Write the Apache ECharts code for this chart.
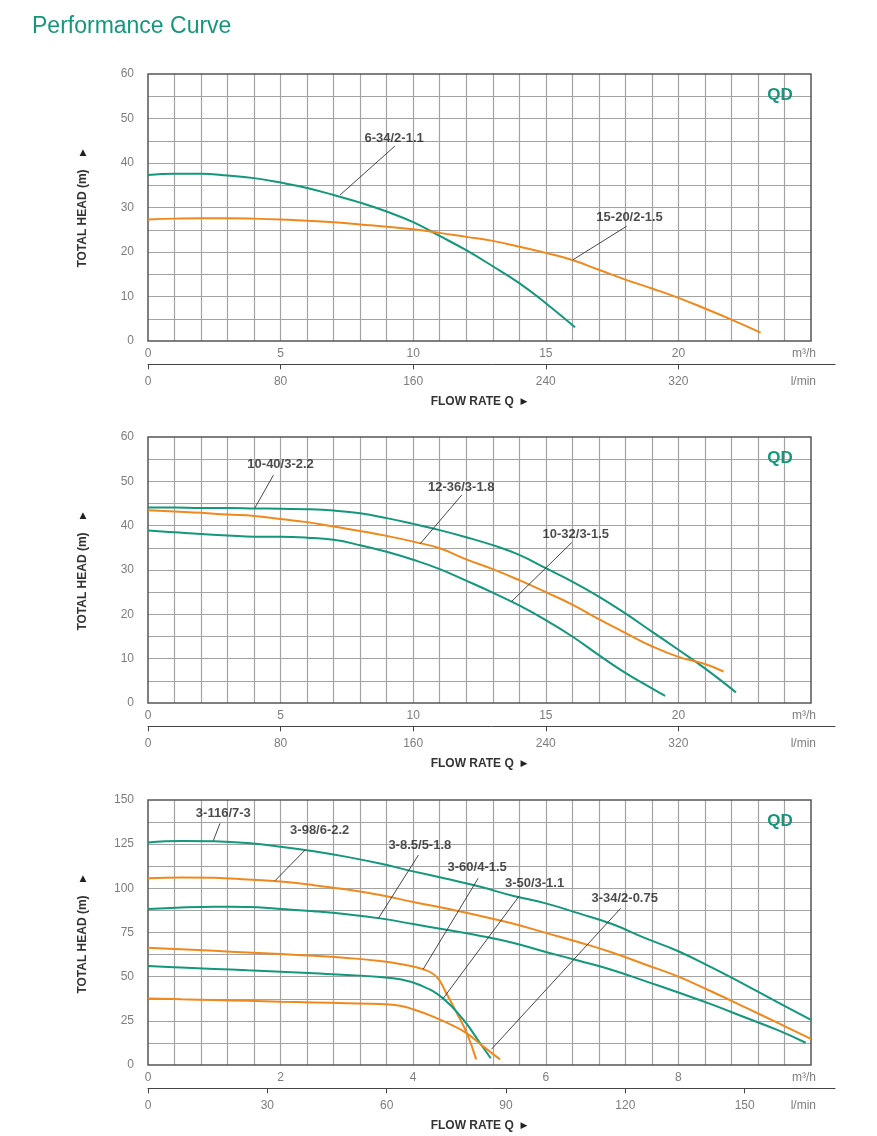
<!DOCTYPE html>
<html>
<head>
<meta charset="utf-8">
<script src="https://cdn.jsdelivr.net/npm/echarts@6/dist/echarts.min.js"></script>
<style>
html,body{margin:0;padding:0;background:#fff;}
#chart{width:877px;height:1136px;}
</style>
</head>
<body>
<div id="chart"></div>
<script>
// ---------- DATA ----------
// Panel 1 (m3/h vs m)
const p1QTicks = [0, 5, 10, 15, 20];
const p1LminTicks = [0, 80, 160, 240, 320];
const p1HTicks = [0, 10, 20, 30, 40, 50, 60];
const curve_6_34_2_11 = [[0,37.3],[1,37.6],[2,37.6],[3,37.2],[4,36.6],[5,35.6],[6,34.4],[7,32.8],[8,31.1],[9,29.1],[10,26.7],[11,23.6],[12,20.4],[13,16.8],[14,13.0],[15,8.5],[16.1,3.1]];
const curve_15_20_2_15 = [[0,27.3],[1,27.5],[2,27.6],[3,27.6],[4,27.5],[5,27.3],[6,27.0],[7,26.7],[8,26.2],[9,25.7],[10,25.1],[11,24.3],[12,23.4],[13,22.5],[14,21.2],[15,19.8],[16,18.2],[17,16.0],[18,13.8],[19,11.8],[20,9.7],[21,7.3],[22,4.8],[23.1,1.9]];
const p1Labels = ['6-34/2-1.1', '15-20/2-1.5'];
const p1LabelPos = [[9.28,45.6],[18.16,27.7]];
const p1Leaders = [[[7.24,32.8],[9.31,43.8]],[[16.01,18.2],[18.05,25.8]]];

// Panel 2
const p2QTicks = [0, 5, 10, 15, 20];
const p2LminTicks = [0, 80, 160, 240, 320];
const p2HTicks = [0, 10, 20, 30, 40, 50, 60];
const curve_10_40_3_22 = [[0,44.1],[1,44.1],[2,44.0],[3,44.0],[4,43.9],[5,43.8],[6,43.7],[7,43.4],[8,42.8],[9,41.7],[10,40.4],[11,39.0],[12,37.4],[13,35.6],[14,33.4],[15,30.4],[16,27.4],[17,24.0],[18,20.2],[19,16.1],[20,12.0],[21,7.8],[22.17,2.4]];
const curve_12_36_3_18 = [[0,43.5],[1,43.2],[2,42.9],[3,42.5],[4,42.2],[5,41.5],[6,40.8],[7,39.8],[8,38.8],[9,37.7],[10,36.4],[11,34.9],[12,32.4],[13,30.2],[14,27.7],[15,25.0],[16,22.2],[17,18.9],[18,15.8],[19,12.8],[20,10.4],[21,8.8],[21.7,7.1]];
const curve_10_32_3_15 = [[0,38.9],[1,38.5],[2,38.1],[3,37.8],[4,37.5],[5,37.5],[6,37.3],[7,36.8],[8,35.6],[9,34.1],[10,32.3],[11,30.2],[12,27.6],[13,24.9],[14,22.0],[15,18.7],[16,15.0],[17,10.8],[18,6.8],[19,3.3],[19.5,1.6]];
const p2Labels = ['10-40/3-2.2', '12-36/3-1.8', '10-32/3-1.5'];
const p2LabelPos = [[5.0,53.8],[11.81,48.7],[16.13,38.0]];
const p2Leaders = [[[4.03,44.0],[4.73,51.4]],[[10.26,35.9],[11.83,46.9]],[[13.71,22.9],[15.98,36.2]]];

// Panel 3
const p3QTicks = [0, 2, 4, 6, 8];
const p3LminTicks = [0, 30, 60, 90, 120, 150];
const p3HTicks = [0, 25, 50, 75, 100, 125, 150];
const curve_3_116_7_3 = [[0,126],[0.5,126.8],[1,126.6],[1.5,125.6],[2,123.6],[2.5,121],[3,117.8],[3.5,114],[4,109.6],[4.5,105.4],[5,101],[5.5,95.8],[6,91.5],[6.5,85.8],[7,79.8],[7.5,71.8],[8,64.4],[8.5,55.2],[9,45.5],[9.5,35.4],[10,25.5]];
const curve_3_98_6_22 = [[0,105.7],[0.5,106.2],[1,106],[1.5,105],[2,103.8],[2.5,101.8],[3,99.3],[3.5,96.2],[4,92.3],[4.5,88.6],[5,84.5],[5.5,80.1],[6,74.8],[6.5,69.5],[7,63.7],[7.5,56.9],[8,50],[8.5,41.6],[9,32.8],[9.5,23.8],[10,14.8]];
const curve_3_85_5_18 = [[0,88.3],[0.5,89.2],[1,89.6],[1.5,89.5],[2,88.3],[2.5,87],[3,85.3],[3.5,83],[4,79.8],[4.5,76.5],[5,73.2],[5.5,69.2],[6,64],[6.5,59],[7,53.8],[7.5,47.5],[8,41],[8.5,34.3],[9,27],[9.5,19.7],[9.92,12.6]];
const curve_3_60_4_15 = [[0,66.4],[0.5,65.5],[1,64.6],[1.5,63.7],[2,62.8],[2.5,61.8],[3,60.6],[3.5,58.9],[3.8,57.2],[4.15,54.2],[4.35,50],[4.5,40.6],[4.66,29.3],[4.81,17.9],[4.95,3.2]];
const curve_3_50_3_11 = [[0,56],[0.5,55.2],[1,54.4],[1.5,53.6],[2,52.8],[2.5,51.9],[3,51],[3.5,49.8],[3.8,48.5],[4.1,45.3],[4.45,37.7],[4.76,25.5],[5.01,12.3],[5.17,3.8]];
const curve_3_34_2_075 = [[0,37.7],[0.5,37.2],[1,36.8],[1.5,36.3],[2,35.8],[2.5,35.4],[3,35],[3.5,34.5],[3.8,33.6],[4,31.5],[4.3,27.4],[4.6,22.3],[4.81,17.9],[5.06,10.4],[5.31,3.2]];
const p3Labels = ['3-116/7-3', '3-98/6-2.2', '3-8.5/5-1.8', '3-60/4-1.5', '3-50/3-1.1', '3-34/2-0.75'];
const p3LabelPos = [[1.136,142.5],[2.59,132.6],[4.10,124.5],[4.965,111.9],[5.83,102.5],[7.19,94.3]];
const p3Leaders = [[[0.985,127],[1.086,136.8]],[[1.915,104.3],[2.37,121.7]],[[3.475,83],[4.08,118.9]],[[4.15,54.2],[4.98,105.7]],[[4.45,37.6],[5.6,95.7]],[[5.18,8.9],[7.13,88.7]]];

// ---------- STYLE / LAYOUT ----------
const GREEN = '#14977b', ORANGE = '#f0891d';
const FONT = "'Liberation Sans', Arial, Helvetica, sans-serif";
const PLOT_LEFT = 148, PLOT_W = 663, LMIN_W = 687;

const panels = [
  {top:74, height:267, xMax:25, xStep:1, yMax:60, yStep:5, lMax:414.5,
   qTicks:p1QTicks, lTicks:p1LminTicks, hTicks:p1HTicks,
   curves:[[curve_6_34_2_11,GREEN],[curve_15_20_2_15,ORANGE]],
   labels:p1Labels, labelPos:p1LabelPos, leaders:p1Leaders},
  {top:437, height:266, xMax:25, xStep:1, yMax:60, yStep:5, lMax:414.5,
   qTicks:p2QTicks, lTicks:p2LminTicks, hTicks:p2HTicks,
   curves:[[curve_10_40_3_22,GREEN],[curve_12_36_3_18,ORANGE],[curve_10_32_3_15,GREEN]],
   labels:p2Labels, labelPos:p2LabelPos, leaders:p2Leaders},
  {top:800, height:265, xMax:10, xStep:0.4, yMax:150, yStep:12.5, lMax:172.7,
   qTicks:p3QTicks, lTicks:p3LminTicks, hTicks:p3HTicks,
   curves:[[curve_3_116_7_3,GREEN],[curve_3_98_6_22,ORANGE],[curve_3_85_5_18,GREEN],[curve_3_60_4_15,ORANGE],[curve_3_50_3_11,GREEN],[curve_3_34_2_075,ORANGE]],
   labels:p3Labels, labelPos:p3LabelPos, leaders:p3Leaders}
];

const grid = [], xAxis = [], yAxis = [], series = [], graphic = [];
const gridLine = {show:true, showMinLine:false, showMaxLine:false, lineStyle:{color:'#a3a3a3', width:1.2}};
const tickLabel = {color:'#7d7d7d', fontSize:12, fontFamily:FONT};

graphic.push({type:'text', left:32, top:15, style:{text:'Performance Curve', fill:GREEN, font:'23px ' + FONT}});

panels.forEach((p, i) => {
  const bottom = p.top + p.height;
  const gi = i * 2;      // main grid
  const li = i * 2 + 1;  // l/min grid
  grid.push({left:PLOT_LEFT, top:p.top, width:PLOT_W, height:p.height, show:true, borderColor:'#555', borderWidth:1.5, backgroundColor:'rgba(0,0,0,0)', z:2});
  grid.push({left:PLOT_LEFT, top:bottom + 22.3, width:LMIN_W, height:1, show:false});

  xAxis.push({gridIndex:gi, type:'value', min:0, max:p.xMax, interval:p.xStep,
    axisLine:{show:false}, axisTick:{show:false},
    axisLabel:Object.assign({customValues:p.qTicks, margin:7}, tickLabel),
    splitLine:gridLine});
  yAxis.push({gridIndex:gi, type:'value', min:0, max:p.yMax, interval:p.yStep,
    axisLine:{show:false}, axisTick:{show:false},
    axisLabel:Object.assign({customValues:p.hTicks, margin:14}, tickLabel),
    splitLine:gridLine});

  xAxis.push({gridIndex:li, type:'value', min:0, max:p.lMax, position:'bottom',
    axisLine:{show:true, onZero:false, lineStyle:{color:'#444', width:1}},
    axisTick:{show:true, customValues:p.lTicks, length:5, lineStyle:{color:'#444', width:1}},
    axisLabel:Object.assign({customValues:p.lTicks, margin:11}, tickLabel),
    splitLine:{show:false}});
  yAxis.push({gridIndex:li, type:'value', show:false});

  p.curves.forEach(([data, color]) => {
    series.push({type:'line', xAxisIndex:gi, yAxisIndex:gi, data:data, showSymbol:false,
      smooth:0.45, silent:true, z:3,
      lineStyle:{color:color, width:2}});
  });
  series.push({type:'lines', coordinateSystem:'cartesian2d', xAxisIndex:gi, yAxisIndex:gi, silent:true, z:4,
    lineStyle:{color:'#333', width:0.9, opacity:1},
    data:p.leaders.map(c => ({coords:c}))});
  series.push({type:'scatter', xAxisIndex:gi, yAxisIndex:gi, silent:true, z:5, symbolSize:1,
    itemStyle:{color:'rgba(0,0,0,0)'},
    label:{show:true, position:'inside', formatter:'{b}', color:'#1e1e1e', fontSize:13, fontWeight:'bold', fontFamily:FONT},
    data:p.labels.map((t, k) => ({name:t, value:p.labelPos[k]}))});

  // decorative texts
  graphic.push({type:'text', x:780, y:p.top + 21.5, z:10, style:{text:'QD', fill:GREEN, font:'bold 17px ' + FONT, align:'center', verticalAlign:'middle'}});
  graphic.push({type:'text', x:83, y:p.top + 144.5, rotation:Math.PI/2, z:10, style:{text:'TOTAL HEAD (m)', fill:'#333', font:'bold 12px ' + FONT, align:'center', verticalAlign:'middle'}});
  graphic.push({type:'text', x:83, y:p.top + 78.7, z:10, style:{text:'▲', fill:'#222', font:'9px DejaVu Sans', align:'center', verticalAlign:'middle'}});
  graphic.push({type:'text', x:479, y:bottom + 60.5, z:10, style:{text:'{a|FLOW RATE Q}  {b|▶}', align:'center', verticalAlign:'middle',
    rich:{a:{fill:'#333', font:'bold 12px ' + FONT}, b:{fill:'#222', font:'9px DejaVu Sans'}}}});
  graphic.push({type:'text', x:816, y:bottom + 12.5, z:10, style:{text:'m³/h', fill:'#7d7d7d', font:'12px ' + FONT, align:'right', verticalAlign:'middle'}});
  graphic.push({type:'text', x:816, y:bottom + 40.5, z:10, style:{text:'l/min', fill:'#7d7d7d', font:'12px ' + FONT, align:'right', verticalAlign:'middle'}});
});

const chart = echarts.init(document.getElementById('chart'), null, {renderer:'canvas'});
chart.setOption({
  animation:false,
  backgroundColor:'#fff',
  grid, xAxis, yAxis, series, graphic
});
</script>
</body>
</html>
